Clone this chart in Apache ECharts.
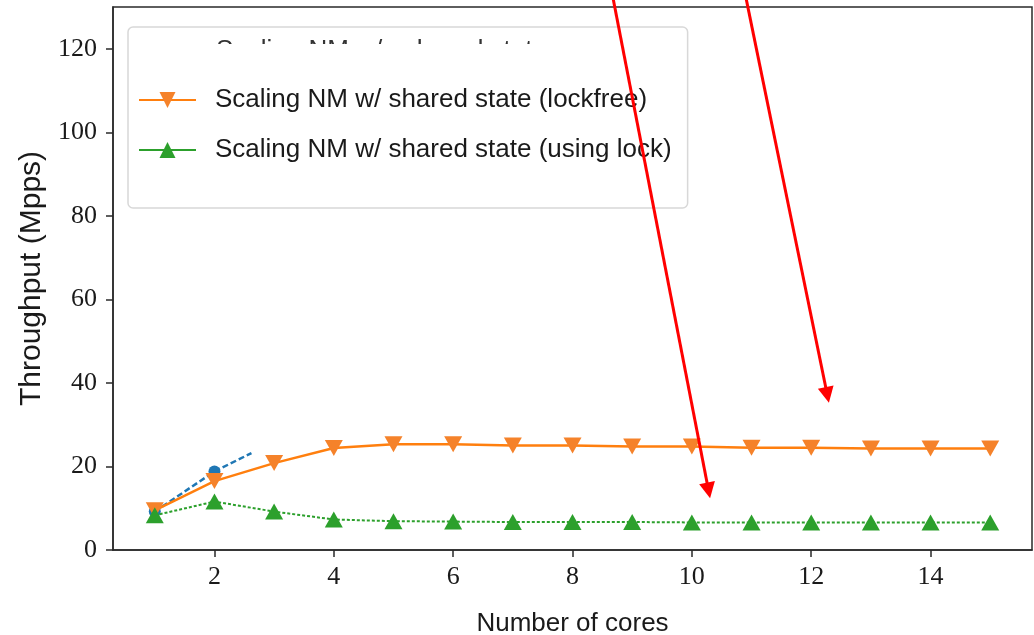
<!DOCTYPE html>
<html>
<head>
<meta charset="utf-8">
<script src="https://cdn.jsdelivr.net/npm/echarts@6/dist/echarts.min.js"></script>
<style>
html,body{margin:0;padding:0;background:#fff;}
#chart{width:1034px;height:635px;}
</style>
</head>
<body>
<div id="chart"></div>
<script>
const cores = [1,2,3,4,5,6,7,8,9,10,11,12,13,14,15];
const lockfree = [9.5,16.5,20.8,24.4,25.3,25.3,25.0,25.0,24.8,24.8,24.5,24.5,24.3,24.3,24.3];
const usingLock = [8.3,11.6,9.2,7.3,6.9,6.8,6.7,6.7,6.7,6.6,6.6,6.6,6.6,6.6,6.6];
const noSharedX = [1,2,2.62];
const noSharedY = [9.2,18.8,23.2];
const xTicks = [2,4,6,8,10,12,14];
const yTicks = [0,20,40,60,80,100,120];
const names = [
  'Scaling NM w/o shared state',
  'Scaling NM w/ shared state (lockfree)',
  'Scaling NM w/ shared state (using lock)'
];
const arrowTips = [[10.28,14.25],[12.27,37.1]];
const arrowStartsPx = [[613,-2],[746,-2]];

const serif = '"Liberation Serif","DejaVu Serif",serif';
const sans = '"Liberation Sans","DejaVu Sans",sans-serif';
const ink = '#1a1a1a';

const chart = echarts.init(document.getElementById('chart'), null, {renderer:'canvas'});
chart.setOption({
  animation:false,
  backgroundColor:'#ffffff',
  grid:{left:113,right:2,top:7,bottom:85,show:true,borderColor:'#2a2a2a',borderWidth:1.5,containLabel:false,outerBoundsMode:'none'},
  xAxis:{
    type:'value',min:0.3,max:15.7,
    name:'Number of cores',nameLocation:'middle',nameGap:61,
    nameTextStyle:{fontFamily:sans,fontSize:26,color:ink},
    axisLine:{show:true,onZero:false,lineStyle:{color:'#2a2a2a',width:1.5}},
    axisTick:{show:true,customValues:xTicks,length:7,lineStyle:{color:'#2a2a2a',width:1.5}},
    axisLabel:{customValues:xTicks,fontFamily:serif,fontSize:26,color:ink,margin:14},
    splitLine:{show:false}
  },
  yAxis:{
    type:'value',min:0,max:130,
    name:'Throughput (Mpps)',nameLocation:'middle',nameGap:65,nameRotate:90,
    nameTextStyle:{fontFamily:sans,fontSize:30,color:ink},
    axisLine:{show:true,onZero:false,lineStyle:{color:'#2a2a2a',width:1.5}},
    axisTick:{show:true,customValues:yTicks,length:7,lineStyle:{color:'#2a2a2a',width:1.5}},
    axisLabel:{customValues:yTicks,fontFamily:serif,fontSize:26,color:ink,margin:16},
    splitLine:{show:false}
  },
  legend:{
    show:true,orient:'vertical',left:128,top:27,z:4,
    data:[names[1],names[2]],
    padding:[58,16,43,10],
    itemGap:20,itemWidth:57,itemHeight:20,
    backgroundColor:'rgba(255,255,255,0.85)',
    borderColor:'#d8d8d8',borderWidth:1.5,borderRadius:5,
    lineStyle:{type:'solid',width:2},
    textStyle:{fontFamily:sans,fontSize:26,color:ink,lineHeight:30,padding:[0,0,0,14]}
  },
  graphic:[
    {type:'text',z:5,left:216,top:38,style:{text:names[0],fontFamily:sans,fontSize:26,fill:'#333333'}},
    {type:'rect',z:6,shape:{x:205,y:44,width:470,height:38},style:{fill:'#ffffff'}}
  ],
  series:[
    {
      name:names[0],type:'line',z:2,
      data:noSharedX.map((x,i)=>({value:[x,noSharedY[i]],symbol:i<2?'circle':'none'})),
      color:'#1f77b4',symbol:'circle',symbolSize:12,
      lineStyle:{width:2.5,type:[6,3]},
      itemStyle:{color:'#1f77b4'}
    },
    {
      name:names[1],type:'line',z:3,
      data:cores.map((c,i)=>[c,lockfree[i]]),
      color:'#ff7f0e',symbol:'triangle',symbolRotate:180,symbolSize:[18,16],
      lineStyle:{width:2.5,color:'#ff7f0e'},
      itemStyle:{color:'#f5822a'},
      markLine:{
        silent:true,animation:false,z:20,
        symbol:['none','triangle'],symbolSize:16,
        label:{show:false},
        lineStyle:{color:'#ff0000',width:3,type:'solid'},
        emphasis:{disabled:true},
        data:arrowTips.map((t,i)=>[
          {x:arrowStartsPx[i][0],y:arrowStartsPx[i][1]},
          {coord:t}
        ])
      }
    },
    {
      name:names[2],type:'line',z:3,
      data:cores.map((c,i)=>[c,usingLock[i]]),
      color:'#2ca02c',symbol:'triangle',symbolSize:[18,16],
      lineStyle:{width:2,type:[3,2],color:'#2ca02c'},
      itemStyle:{color:'#2ca02c'}
    }
  ]
});
</script>
</body>
</html>
